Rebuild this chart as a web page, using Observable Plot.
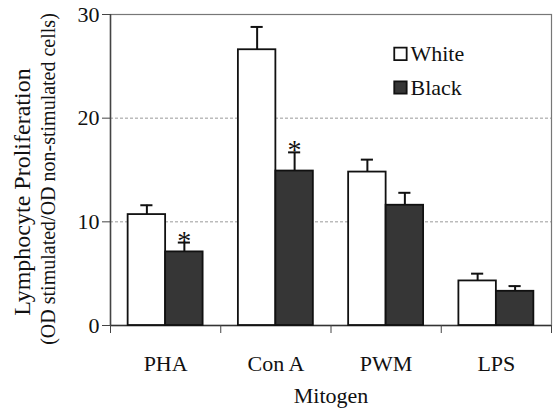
<!DOCTYPE html>
<html>
<head>
<meta charset="utf-8">
<script src="https://cdn.jsdelivr.net/npm/d3@7"></script>
<script src="https://cdn.jsdelivr.net/npm/@observablehq/plot@0.6"></script>
<style>
  html, body { margin: 0; padding: 0; background: #fff; }
  #chart { width: 555px; height: 408px; }
  #chart svg, #chart svg text { font-family: "Liberation Serif", "Times New Roman", serif !important; }
</style>
</head>
<body>
<div id="chart"></div>
<script>
const categories = ["PHA", "Con A", "PWM", "LPS"];
const groups = ["White", "Black"];
const whiteMean = [10.7, 26.6, 14.8, 4.3];
const whiteErr  = [0.9, 2.2, 1.2, 0.7];
const blackMean = [7.1, 14.9, 11.6, 3.3];
const blackErr  = [0.9, 1.8, 1.2, 0.5];
const blackSignificant = [true, true, false, false];
const yTicks = [0, 10, 20, 30];
const yTitle = "Lymphocyte Proliferation";
const ySubtitle = "(OD stimulated/OD non-stimulated cells)";
const xTitle = "Mitogen";

const BAR = 0.34; // bar width in category units
const rows = [];
categories.forEach((c, i) => {
  rows.push({cat: c, i, group: "White", mean: whiteMean[i], err: whiteErr[i], x1: i - BAR, x2: i, xc: i - BAR / 2, sig: false});
  rows.push({cat: c, i, group: "Black", mean: blackMean[i], err: blackErr[i], x1: i, x2: i + BAR, xc: i + BAR / 2, sig: blackSignificant[i]});
});
rows.forEach(d => { d.top = d.mean + d.err; d.c1 = d.xc - 0.055; d.c2 = d.xc + 0.055; });

const fills = {White: "#ffffff", Black: "#363636"};
const font = "Liberation Serif";
const boundaries = d3.range(-0.5, categories.length, 1);

const legendRows = groups.map((g, k) => ({group: g, k}));

const chart = Plot.plot({
  width: 555,
  height: 408,
  marginLeft: 110,
  marginRight: 4,
  marginTop: 14,
  marginBottom: 83,
  style: {fontFamily: font, fontSize: "21px", color: "#111", background: "#fff"},
  x: {domain: [-0.5, categories.length - 0.5]},
  y: {domain: [0, 30]},
  marks: [
    Plot.gridY([10, 20], {stroke: "#9a9a9a", strokeOpacity: 1, strokeDasharray: "3,2"}),
    Plot.frame({stroke: "#777", strokeWidth: 1.2}),
    Plot.ruleY([0], {stroke: "#333", strokeWidth: 1.5}),
    Plot.ruleX([-0.5], {stroke: "#444", strokeWidth: 1.5}),
    Plot.axisY(yTicks, {tickSize: 8, tickPadding: 3, fontSize: 22, label: null, stroke: "#444", fill: "#111"}),
    Plot.axisX(boundaries, {tickSize: 8, tickFormat: () => "", label: null, stroke: "#444"}),
    Plot.axisX(d3.range(categories.length), {tickSize: 0, tickPadding: 30, tickFormat: i => categories[i], fontSize: 22, label: null, fill: "#111"}),
    Plot.text([xTitle], {frameAnchor: "bottom", dy: 70, fontSize: 22, lineAnchor: "middle", fill: "#111"}),
    Plot.text([yTitle], {frameAnchor: "left", dx: -88, dy: 22, rotate: -90, fontSize: 24, textAnchor: "middle", lineAnchor: "middle", fill: "#111"}),
    Plot.text([ySubtitle], {frameAnchor: "left", dx: -62, dy: 9, rotate: -90, fontSize: 20, textAnchor: "middle", lineAnchor: "middle", fill: "#111"}),
    // error bars
    Plot.ruleX(rows, {x: "xc", y1: "mean", y2: "top", stroke: "#111", strokeWidth: 2}),
    Plot.ruleY(rows, {y: "top", x1: "c1", x2: "c2", stroke: "#111", strokeWidth: 2}),
    // bars
    Plot.rectY(rows, {x1: "x1", x2: "x2", y1: 0, y2: "mean", fill: d => fills[d.group], stroke: "#111", strokeWidth: 1.8}),
    // significance stars
    Plot.text(rows.filter(d => d.sig), {x: "xc", y: "top", text: () => "*", fontSize: 28, lineAnchor: "bottom", dy: 7, fill: "#111"}),
    // legend
    Plot.dot(legendRows, {x: 2.13, y: d => d.k === 0 ? 26.2 : 22.96, symbol: "square", r: 7, fill: d => fills[d.group], stroke: "#111", strokeWidth: 1.8}),
    Plot.text(legendRows, {x: 2.13, y: d => d.k === 0 ? 26.2 : 22.96, text: "group", dx: 10, textAnchor: "start", fontSize: 22, fill: "#111"})
  ]
});
document.getElementById("chart").appendChild(chart);
</script>
</body>
</html>
